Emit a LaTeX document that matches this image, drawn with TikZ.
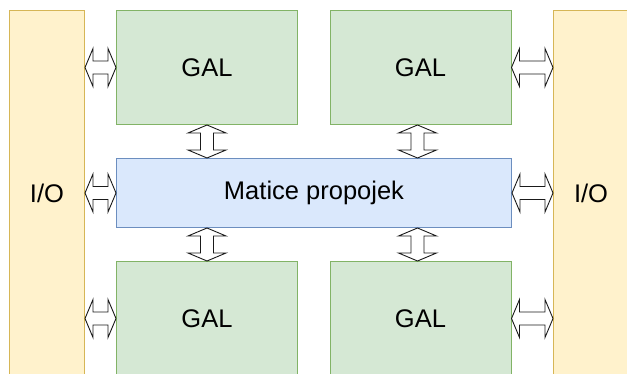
\documentclass[tikz,border=0pt]{standalone}
\usepackage{fontspec}
\setmainfont{Liberation Sans}
\usetikzlibrary{calc}

\definecolor{galfill}{HTML}{D5E8D4}
\definecolor{galdraw}{HTML}{82B366}
\definecolor{matfill}{HTML}{DAE8FC}
\definecolor{matdraw}{HTML}{6C8EBF}
\definecolor{iofill}{HTML}{FFF2CC}
\definecolor{iodraw}{HTML}{D6B656}
\definecolor{arrowline}{HTML}{1A1A1A}

\newcommand{\headlen}{8pt}
\newcommand{\headhalf}{19pt}
\newcommand{\shafthalf}{6.5pt}

\tikzset{
  block/.style={rectangle, line width=1pt, anchor=north west, inner sep=0pt,
    font=\fontsize{25.5}{30}\selectfont, text=black},
  galbox/.style={block, fill=galfill, draw=galdraw, minimum width=181pt, minimum height=114pt},
  matbox/.style={block, fill=matfill, draw=matdraw, minimum width=395pt, minimum height=69pt},
  iobox/.style={block, fill=iofill, draw=iodraw, minimum width=75pt, minimum height=366pt},
  % hollow double-headed arrow drawn between the two end points
  flex/.style={draw=arrowline, fill=white, line width=0.9pt, line join=miter,
    to path={
      -- ($(\tikztostart)!\headlen!(\tikztotarget)!\headhalf!90:(\tikztotarget)$)
      -- ($(\tikztostart)!\headlen!(\tikztotarget)!\shafthalf!90:(\tikztotarget)$)
      -- ($(\tikztotarget)!\headlen!(\tikztostart)!\shafthalf!-90:(\tikztostart)$)
      -- ($(\tikztotarget)!\headlen!(\tikztostart)!\headhalf!-90:(\tikztostart)$)
      -- (\tikztotarget)
      -- ($(\tikztotarget)!\headlen!(\tikztostart)!\headhalf!90:(\tikztostart)$)
      -- ($(\tikztotarget)!\headlen!(\tikztostart)!\shafthalf!90:(\tikztostart)$)
      -- ($(\tikztostart)!\headlen!(\tikztotarget)!\shafthalf!-90:(\tikztotarget)$)
      -- ($(\tikztostart)!\headlen!(\tikztotarget)!\headhalf!-90:(\tikztotarget)$)
      -- cycle}},
}

\begin{document}
\begin{tikzpicture}[x=1pt, y=-1pt]
  \useasboundingbox (0,0) rectangle (627,374);
  \clip (0,0) rectangle (627,374);

  % side I/O columns
  \node[iobox] (io1) at (9,10) {I/O};
  \node[iobox] (io2) at (553,10) {I/O};

  % GAL blocks and the interconnect matrix
  \node[galbox] (gal1) at (116,10) {GAL};
  \node[galbox] (gal2) at (329.5,10) {GAL};
  \node[matbox] (mat) at (116,158) {Matice propojek};
  \node[galbox] (gal3) at (116,261) {GAL};
  \node[galbox] (gal4) at (329.5,261) {GAL};

  % left links
  \draw[flex] (io1.east |- gal1.west) to (gal1.west);
  \draw[flex] (io1.east |- mat.west) to (mat.west);
  \draw[flex] (io1.east |- gal3.west) to (gal3.west);

  % right links
  \draw[flex] (gal2.east) to (io2.west |- gal2.east);
  \draw[flex] (mat.east) to (io2.west |- mat.east);
  \draw[flex] (gal4.east) to (io2.west |- gal4.east);

  % vertical links to the matrix
  \draw[flex] (gal1.south) to (gal1.south |- mat.north);
  \draw[flex] ([xshift=-3pt]gal2.south) to ([xshift=-3pt]gal2.south |- mat.north);
  \draw[flex] (mat.south -| gal3.north) to (gal3.north);
  \draw[flex] ([xshift=-3pt]mat.south -| gal4.north) to ([xshift=-3pt]gal4.north);
\end{tikzpicture}
\end{document}
